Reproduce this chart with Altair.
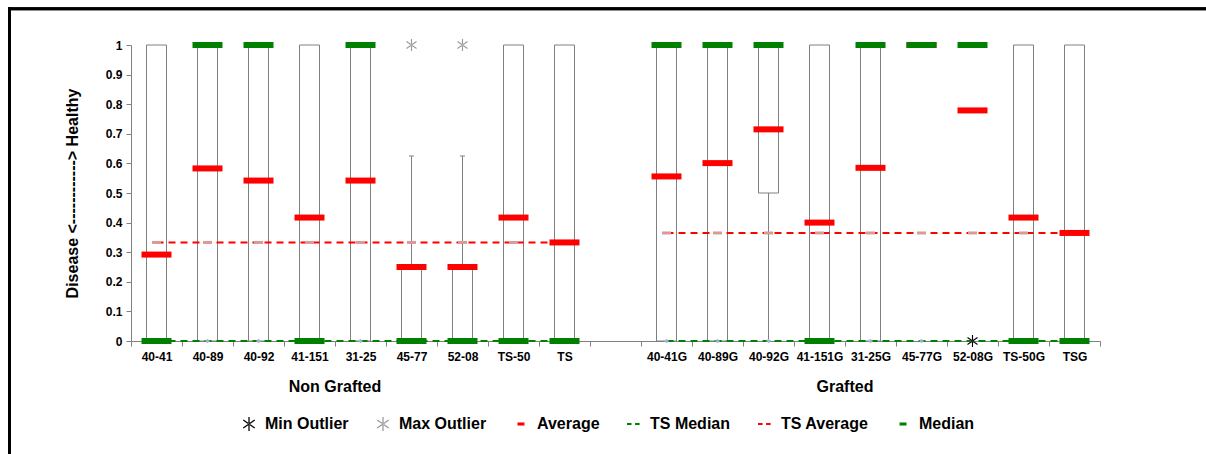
import altair as alt
import pandas as pd

# ---------------- data ----------------
ng_labels = ["40-41", "40-89", "40-92", "41-151", "31-25", "45-77", "52-08", "TS-50", "TS"]
g_labels = ["40-41G", "40-89G", "40-92G", "41-151G", "31-25G", "45-77G", "52-08G", "TS-50G", "TSG"]
gap_label = " "
categories = ng_labels + [gap_label] + g_labels

group_names = ["Non Grafted", "Grafted"]
ts_medians = [0.0, 0.0]
ts_averages = [0.333, 0.365]

box_low = [0, 0, 0, 0, 0, 0, 0, 0, 0,
           0, 0, 0.5, 0, 0, None, None, 0, 0]
box_high = [1, 1, 1, 1, 1, 0.25, 0.25, 1, 1,
            1, 1, 1, 1, 1, None, None, 1, 1]
whisker_low = [0, 0, 0, 0, 0, 0, 0, 0, 0,
               0, 0, 0, 0, 0, None, None, 0, 0]
whisker_high = [1, 1, 1, 1, 1, 0.625, 0.625, 1, 1,
                1, 1, 1, 1, 1, None, None, 1, 1]
medians = [0, 1, 1, 0, 1, 0, 0, 0, 0,
           1, 1, 1, 0, 1, 1, 1, 0, 0]
averages = [0.292, 0.583, 0.542, 0.417, 0.542, 0.25, 0.25, 0.417, 0.333,
            0.556, 0.601, 0.715, 0.40, 0.585, 1.0, 0.779, 0.417, 0.365]
max_outliers = [None, None, None, None, None, 1, 1, None, None,
                None, None, None, None, None, None, None, None, None]
min_outliers = [None, None, None, None, None, None, None, None, None,
                None, None, None, None, None, None, 0, None, None]

legend_labels = ["Min Outlier", "Max Outlier", "Average", "TS Median", "TS Average", "Median"]
legend_colors = ["#000000", "#9a9a9a", "#ff0000", "#008000", "#ff0000", "#008000"]

# ---------------- tables ----------------
labels = ng_labels + g_labels
groups = [group_names[0]] * len(ng_labels) + [group_names[1]] * len(g_labels)
df = pd.DataFrame({
    "cat": labels, "group": groups,
    "box_low": box_low, "box_high": box_high,
    "wl": whisker_low, "wh": whisker_high,
    "median": medians, "average": averages,
})
df["ts_avg"] = [ts_averages[group_names.index(g)] for g in groups]
df["ts_med"] = [ts_medians[group_names.index(g)] for g in groups]

whisk_rows, cap_rows = [], []
for c, bl, bh, wl, wh in zip(labels, box_low, box_high, whisker_low, whisker_high):
    if bl is None:
        continue
    if wh > bh:
        whisk_rows.append({"cat": c, "y": bh, "y2": wh})
        cap_rows.append({"cat": c, "y": wh})
    if wl < bl:
        whisk_rows.append({"cat": c, "y": wl, "y2": bl})
        cap_rows.append({"cat": c, "y": wl})
whisk = pd.DataFrame(whisk_rows)
caps = pd.DataFrame(cap_rows)

out_rows = []
for c, v in zip(labels, min_outliers):
    if v is not None:
        out_rows.append({"cat": c, "v": v, "series": "Min Outlier"})
for c, v in zip(labels, max_outliers):
    if v is not None:
        out_rows.append({"cat": c, "v": v, "series": "Max Outlier"})
outl = pd.DataFrame(out_rows)

group_lab = pd.DataFrame({"cat": ["41-151", "41-151G"], "text": group_names})

# ---------------- shapes ----------------
ast = ("M-0.09,-1L0.09,-1L0.09,1L-0.09,1Z"
       "M0.77,0.64L0.87,0.5L-0.77,-0.64L-0.87,-0.5Z"
       "M-0.77,0.64L-0.87,0.5L0.77,-0.64L0.87,-0.5Z")
bar_sym = "M-0.5,-0.22H0.5V0.22H-0.5Z"
dash_sym = "M-1,-0.13H-0.35V0.13H-1ZM0.15,-0.13H0.8V0.13H0.15Z"
legend_shapes = [ast, ast, bar_sym, dash_sym, dash_sym, bar_sym]

W, H = 969, 296
GRAY = "#808080"

xscale = alt.Scale(type="band", domain=categories, paddingInner=0, paddingOuter=0)
yscale = alt.Scale(domain=[0, 1], nice=False)
X = alt.X("cat:N", scale=xscale, sort=categories,
          axis=alt.Axis(title=None, tickBand="extent", labelAngle=0, labelFontSize=12,
                        labelFontWeight="bold", labelColor="black", tickSize=5,
                        tickColor=GRAY, domainColor=GRAY, labelPadding=5))
yaxis = alt.Axis(values=[0, 0.1, 0.2, 0.3, 0.4, 0.5, 0.6, 0.7, 0.8, 0.9, 1], format="~g",
                 grid=False, labelFontSize=12, labelFontWeight="bold", labelColor="black",
                 tickSize=5, tickColor=GRAY, domainColor=GRAY, labelPadding=4,
                 title="Disease <------------> Healthy", titleFontSize=16,
                 titleFontWeight="bold", titleColor="black", titleX=-59, titleY=H / 2,
                 titleAngle=-90, titleBaseline="middle", titleAlign="center")


def Y(field):
    return alt.Y(field, type="quantitative", scale=yscale, axis=yaxis)


base = alt.Chart(df)

boxes = base.transform_filter("isValid(datum.box_low)").mark_bar(
    size=20, fill="white", stroke=GRAY, strokeWidth=1, opacity=1
).encode(x=X, y=Y("box_low"), y2="box_high:Q")

whiskers = alt.Chart(whisk).mark_rule(color=GRAY, strokeWidth=1).encode(
    x=X, y=Y("y"), y2="y2:Q")
cap_marks = alt.Chart(caps).mark_tick(size=5, thickness=1, color=GRAY, opacity=1).encode(
    x=X, y=Y("y"))

ts_med_line = base.mark_line(color="#008000", strokeDash=[7, 5], strokeWidth=2, opacity=1).encode(
    x=X, y=Y("ts_med"), detail="group:N")
ts_avg_line = base.mark_line(color="#ff0000", strokeDash=[7, 5], strokeWidth=2, opacity=1).encode(
    x=X, y=Y("ts_avg"), detail="group:N")
ts_avg_marks = base.mark_tick(size=9, thickness=3, color="#d99a9a", opacity=1).encode(
    x=X, y=Y("ts_avg"))
ts_med_marks = base.mark_point(shape="cross", size=18, filled=True, color="#a8b8d8",
                               opacity=1).encode(x=X, y=Y("ts_med"))

avg_marks = base.mark_tick(size=30, thickness=6, color="#ff0000", opacity=1).encode(
    x=X, y=Y("average"))
med_marks = base.mark_tick(size=30, thickness=6, color="#008000", opacity=1).encode(
    x=X, y=Y("median"))

leg = alt.Legend(title=None, orient="none", legendX=110, legendY=371, direction="horizontal",
                 columns=6, labelFontSize=16, labelFontWeight="bold", labelColor="black",
                 labelFont="Liberation Sans", symbolSize=196, symbolStrokeWidth=0,
                 labelOffset=8, columnPadding=26, symbolOpacity=1)
outliers = alt.Chart(outl).mark_point(filled=True, size=150, opacity=1).encode(
    x=X, y=Y("v"),
    color=alt.Color("series:N", scale=alt.Scale(domain=legend_labels, range=legend_colors),
                    legend=leg),
    shape=alt.Shape("series:N", scale=alt.Scale(domain=legend_labels, range=legend_shapes),
                    legend=leg),
)

group_text = alt.Chart(group_lab).mark_text(
    fontSize=16, fontWeight="bold", color="black", baseline="middle", align="center"
).encode(x=alt.X("cat:N", scale=xscale, bandPosition=1), y=alt.value(H + 46), text="text:N")

frame_top = alt.Chart(group_lab).mark_rule(color="black", strokeWidth=3).encode(
    x=alt.value(-123), x2=alt.value(1075 + 10), y=alt.value(-36.3))
frame_left = alt.Chart(group_lab).mark_rule(color="black", strokeWidth=3).encode(
    x=alt.value(-121.5), y=alt.value(-37.5), y2=alt.value(H + 120))

chart = alt.layer(
    boxes, whiskers, cap_marks, ts_med_line, ts_avg_line, ts_avg_marks, ts_med_marks,
    avg_marks, med_marks, outliers, group_text, frame_top, frame_left
).properties(
    width=W, height=H, autosize="none",
    padding={"left": 131, "top": 45, "right": 106, "bottom": 113},
).configure(font="Liberation Sans").configure_view(stroke=None)

chart.save("out.html", embed_options={"renderer": "svg", "actions": False})
